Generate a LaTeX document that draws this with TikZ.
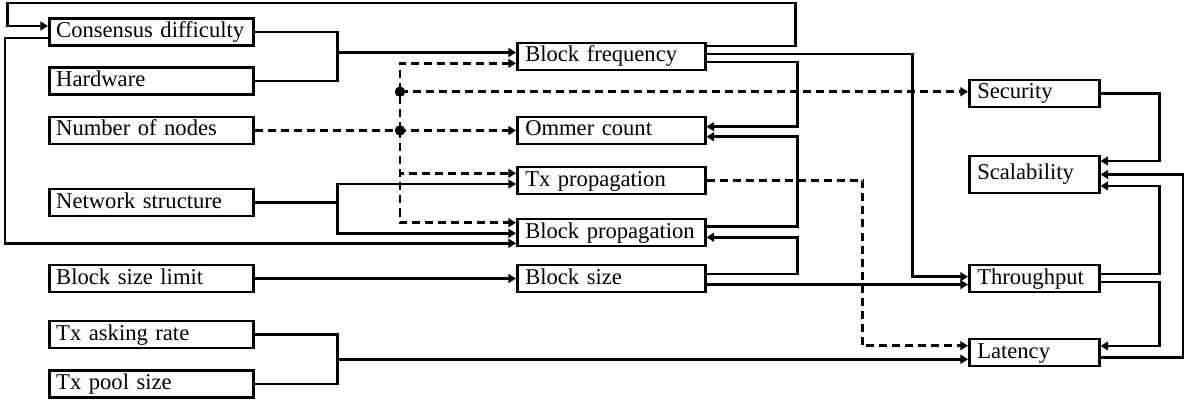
\documentclass[tikz,border=0pt]{standalone}
\usepackage{fontspec}
\setmainfont{Liberation Serif}
\usetikzlibrary{arrows.meta,calc}

\begin{document}
\begin{tikzpicture}
    [x=0.5pt,y=-0.5pt,line width=1.25pt,
     box/.style={draw,rectangle,anchor=west,align=left,inner ysep=1.5pt,
       text height=8pt,text depth=2.5pt,font=\fontsize{11.3}{13}\selectfont},
     param/.style={box,text width=95pt,inner xsep=3.5pt},
     effect/.style={box,text width=86pt,inner xsep=4pt},
     metric/.style={box,text width=57pt,inner xsep=4pt},
     link/.style={-{Triangle[length=3.8pt,width=4.4pt]}},
     weak/.style={link,dash pattern=on 4pt off 2.5pt}]
    \useasboundingbox (0,0) rectangle (1184,401);
    % inputs
    \node[param] (cd) at (48,32) {Consensus difficulty};
    \node[param] (hw) at (48,81) {Hardware};
    \node[param] (nn) at (48,130.5) {Number of nodes};
    \node[param] (ns) at (48,202.5) {Network structure};
    \node[param] (bsl) at (48,278.5) {Block size limit};
    \node[param] (tar) at (48,334.5) {Tx asking rate};
    \node[param] (tps) at (48,384) {Tx pool size};
    % middle layer
    \node[effect] (bf) at (516,56.5) {Block frequency};
    \node[effect] (oc) at (516,130.5) {Ommer count};
    \node[effect] (tp) at (516,180.5) {Tx propagation};
    \node[effect] (bp) at (516,232.5) {Block propagation};
    \node[effect] (bs) at (516,278.5) {Block size};
    % metrics
    \node[metric] (sec) at (968,93.5) {Security};
    \node[metric,minimum height=18.5pt] (sca) at (968,174.5) {Scalability};
    \node[metric] (thr) at (968,278.5) {Throughput};
    \node[metric] (lat) at (968,352.5) {Latency};

    \draw[link] ($(bf.east)+(0,-10.5)$) -- ++(89,0) |- ++(-788,-43) |- ($(cd.west)+(0,-6)$);
    \draw[link] ($(cd.west)+(0,6)$) -- ++(-43,0) |- ($(bp.west)+(0,10.8)$);
    \draw[link] (cd.east) -- ++(83,0) |- ($(bf.west)+(0,-4)$);
    \draw (hw.east) -| ($(cd.east)+(83,0)$);
    \draw[link] ($(bf.east)+(0,-2.5)$) -- ++(206,0) |- ($(thr.west)+(0,-1.8)$);
    \draw[link] ($(bf.east)+(0,5.5)$) -- ++(91,0) |- ($(oc.east)+(0,-3.8)$);
    \draw[link] ($(bp.east)+(0,-5.8)$) -- ++(91,0) |- ($(oc.east)+(0,6.2)$);
    \draw[link] ($(bs.east)+(0,-4.5)$) -- ++(91,0) |- ($(bp.east)+(0,4.8)$);
    \draw[link] ($(bs.east)+(0,6)$) -- ($(thr.west)+(0,6)$);
    \draw[link] (bsl.east) -- (bs.west);
    \draw[link] (ns.east) -- ++(83,0) |- ($(tp.west)+(0,3.5)$);
    \draw[link] (ns.east) -- ++(83,0) |- ($(bp.west)+(0,0.8)$);

    \coordinate (nhub) at ($(oc.west)+(-116,0)$);
    \coordinate (shub) at ($(nhub)+(0,-38.8)$);
    \draw[weak] (nn.east) -- (oc.west);
    \draw[weak] (nhub) |- ($(bf.west)+(0,6.8)$);
    \draw[weak] (nhub) |- ($(tp.west)+(0,-7.2)$);
    \draw[weak] (nhub) |- ($(bp.west)+(0,-9.8)$);
    \draw[weak] (shub) -- (shub -| sec.west);
    \fill (nhub) circle (2.6pt) (shub) circle (2.6pt);
    \draw[weak] (tp.east) -- ++(156,0) |- ($(lat.west)+(0,-6.8)$);

    \draw (tar.east) -- ++(83,0) |- (tps.east);
    \draw[link] ($(tar.east)!0.5!(tps.east)+(83,0)$) coordinate (tj) -- (tj -| lat.west);

    \draw[link] (sec.east) -- ++(59,0) |- ($(sca.east)+(0,-13.5)$);
    \draw[link] ($(thr.east)+(0,-4.5)$) -- ++(59,0) |- ($(sca.east)+(0,11.5)$);
    \draw[link] ($(thr.east)+(0,3.5)$) -- ++(59,0) |- ($(lat.east)+(0,-6.5)$);
    \draw[link] ($(lat.east)+(0,5)$) -- ++(83,0) |- (sca.east);
\end{tikzpicture}
\end{document}
